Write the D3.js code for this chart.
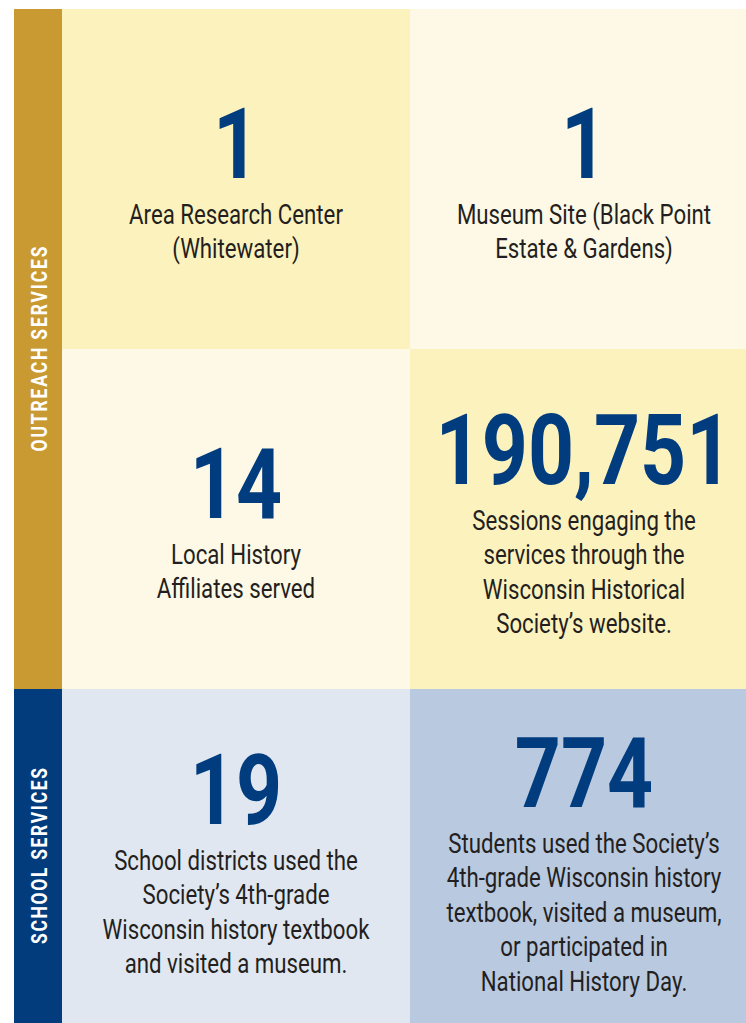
<!DOCTYPE html>
<html>
<head>
<meta charset="utf-8">
<script src="https://cdn.jsdelivr.net/npm/d3@7"></script>
<style>
  body { margin: 0; background: #fff; }
  svg { display: block; }
</style>
</head>
<body>
<script>
// Cifras del cuadro (fila, columna)
var values = [1, 1, 14, 190751, 19, 774];
var rows = [0, 0, 1, 1, 2, 2];
var cols = [0, 1, 0, 1, 0, 1];
var labels = [
  ["Area Research Center", "(Whitewater)"],
  ["Museum Site (Black Point", "Estate & Gardens)"],
  ["Local History", "Affiliates served"],
  ["Sessions engaging the", "services through the", "Wisconsin Historical", "Society\u2019s website."],
  ["School districts used the", "Society\u2019s 4th-grade", "Wisconsin history textbook", "and visited a museum."],
  ["Students used the Society\u2019s", "4th-grade Wisconsin history", "textbook, visited a museum,", "or participated in", "National History Day."]
];
var fills = ["#FCF2BE", "#FDF9E6", "#FDF9E6", "#FCF2BE", "#E0E7F1", "#B8C9E0"];

// Grupos de la barra lateral
var groups = ["OUTREACH SERVICES", "SCHOOL SERVICES"];
var groupRows = [[0, 1], [2, 2]];
var groupFills = ["#C99A31", "#023C7D"];

var w = 746;
var h = 1023;
var font = "Roboto, 'Noto Sans', sans-serif";
var lineH = 34.6;

var svg = d3.select("body")
  .append("svg")
    .attr("width", w)
    .attr("height", h);

var x = d3.scaleBand().domain([0, 1]).range([62, 758]);
var y = d3.scaleBand().domain([0, 1, 2]).range([9, 1029]);
var fmt = d3.format(",");

// Factor para "condensar" el texto (no hay fuente condensada instalada)
function squeeze(size, weight, sample, target) {
  var t = svg.append("text")
    .attr("font-family", font)
    .attr("font-size", size)
    .attr("font-weight", weight)
    .text(sample);
  var k = target / t.node().getComputedTextLength();
  t.remove();
  return k;
}
var kNum = squeeze(98, "bold", "190,751", 297);
var kLab = squeeze(28, "normal", "Area Research Center", 214);

function cx(i) { return x(cols[i]) + x.bandwidth() / 2; }
function numBase(i) { return y(rows[i]) + 202.5 - labels[i].length * 17; }

// Celdas
var cells = svg.selectAll("g.cell")
  .data(values)
  .enter()
    .append("g")
    .attr("class", "cell");

cells.append("rect")
  .attr("x", function(d, i) { return x(cols[i]); })
  .attr("y", function(d, i) { return y(rows[i]); })
  .attr("width", x.bandwidth())
  .attr("height", y.bandwidth())
  .attr("fill", function(d, i) { return fills[i]; });

cells.append("text")
  .attr("transform", function(d, i) {
    return "translate(" + cx(i) + "," + numBase(i) + ") scale(" + kNum + ",1)";
  })
  .attr("text-anchor", "middle")
  .attr("font-family", font)
  .attr("font-weight", "bold")
  .attr("font-size", 98)
  .attr("fill", "#013C7E")
  .text(function(d) { return fmt(d); });

cells.each(function(d, i) {
  var b = numBase(i);
  d3.select(this).selectAll("text.lab")
    .data(labels[i])
    .enter()
      .append("text")
      .attr("class", "lab")
      .attr("transform", function(t, j) {
        return "translate(" + cx(i) + "," + (b + 46 + j * lineH) + ") scale(" + kLab + ",1)";
      })
      .attr("text-anchor", "middle")
      .attr("font-family", font)
      .attr("font-size", 28)
      .attr("fill", "#231F20")
      .text(function(t) { return t; });
});

// Barra lateral
var side = svg.selectAll("g.side")
  .data(groups)
  .enter()
    .append("g")
    .attr("class", "side");

side.append("rect")
  .attr("x", 14)
  .attr("y", function(d, i) { return y(groupRows[i][0]); })
  .attr("width", 48)
  .attr("height", function(d, i) {
    return y(groupRows[i][1]) + y.bandwidth() - y(groupRows[i][0]);
  })
  .attr("fill", function(d, i) { return groupFills[i]; });

var sideLen = [205, 176];
side.append("text")
  .attr("transform", function(d, i) {
    var c = (y(groupRows[i][0]) + Math.min(h, y(groupRows[i][1]) + y.bandwidth())) / 2;
    return "translate(47," + c + ") rotate(-90) scale(" + kLab + ",1)";
  })
  .attr("x", function(d, i) { return -sideLen[i] / kLab / 2; })
  .attr("textLength", function(d, i) { return sideLen[i] / kLab; })
  .attr("lengthAdjust", "spacing")
  .attr("font-family", font)
  .attr("font-weight", "bold")
  .attr("font-size", 22)
  .attr("fill", "#fff")
  .text(function(d) { return d; });
</script>
</body>
</html>
